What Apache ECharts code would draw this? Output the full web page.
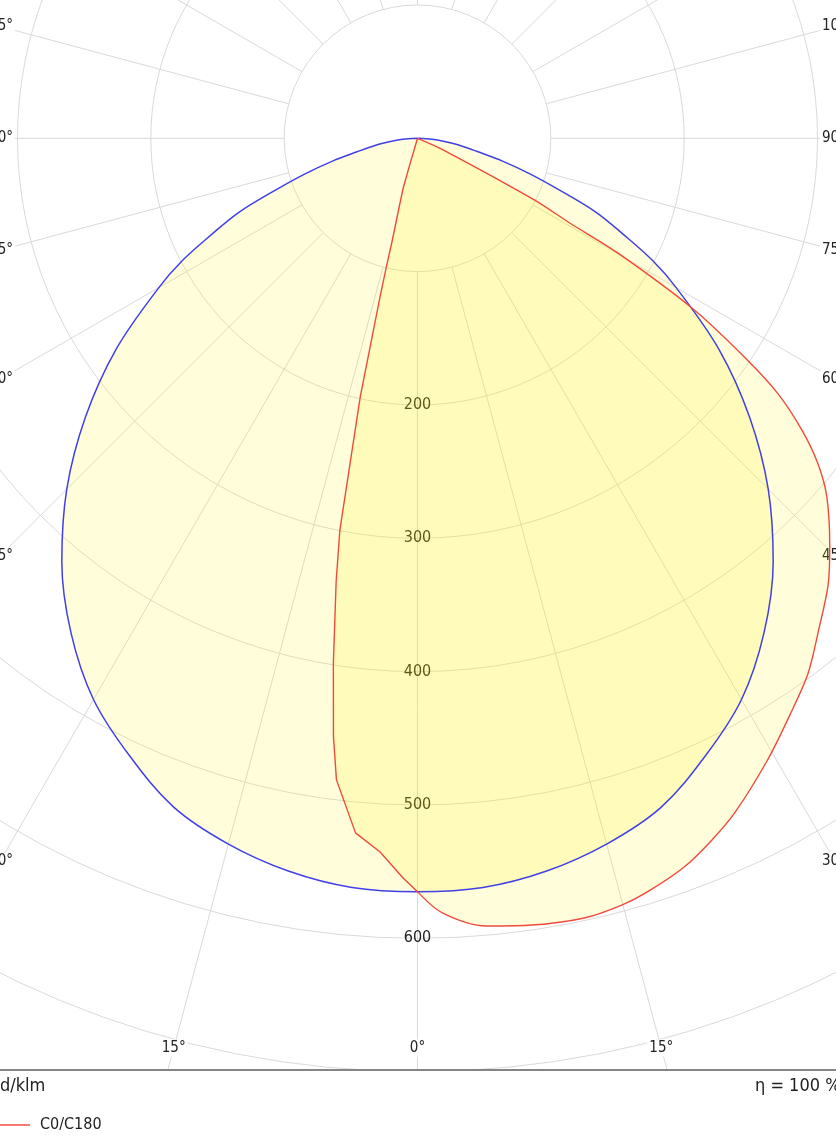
<!DOCTYPE html>
<html>
<head>
<meta charset="utf-8">
<script src="https://cdn.jsdelivr.net/npm/echarts@6/dist/echarts.min.js"></script>
<style>
html, body { margin: 0; padding: 0; background: #fff; }
#main { width: 836px; height: 1140px; }
</style>
</head>
<body>
<div id="main"></div>
<script>
// intensity in cd/klm, gamma in degrees from nadir
var c90Gamma = [0, 5, 10, 15, 20, 25, 30, 35, 40, 45, 50, 55, 60, 62.5, 65, 67.5, 70, 72.5, 75, 77.5, 80, 82.5, 85, 87.5, 90];
var c90Value = [565, 564, 558, 548, 534, 511, 486, 453, 415, 372, 325, 276, 224, 199, 170, 145, 113, 88, 66, 46, 34, 23, 15, 7, 0];

var c0Gamma = [0, 1.8, 5, 8, 12, 15, 17.3, 20.1, 22.7, 25.2, 29.4, 33, 36.1, 39.2, 42.6, 45.3, 48.8, 50.9, 52.8, 54.7, 56.1, 58.2, 60.2, 60.9, 62.2, 65.8, 70];
var c0Value = [565, 581, 593, 596, 598, 595, 590, 582, 571, 559, 535, 514, 497, 476, 455, 435, 408, 387, 362, 331, 298, 244, 173, 131, 99, 21, 0];

var c180Gamma = [0, 1.1, 3, 5.1, 7.2, 8, 9.1, 10.4, 11.2, 12.5, 13.3, 13.6, 13.9, 14.8, 16.1, 16.3, 20];
var c180Value = [565, 555, 536, 523, 485, 453, 399, 338, 300, 198, 122, 100, 78, 56, 38, 20, 0];

var angleTicks = [0, 15, 30, 45, 60, 75, 90, 105];
var radiusTicks = [200, 300, 400, 500, 600];

var cx = 417.5, cy = 138.3;      // pole of the diagram
var unitPx = 4 / 3;              // px per cd/klm
var rMax = 800;
var font = '"DejaVu Sans Condensed", "DejaVu Sans", sans-serif';
var fill = 'rgba(255,242,0,0.145)';
var red = '#f04a3c', blue = '#4040e6';

// right half -> angle 360-g, left half -> angle g (0 = nadir, clockwise)
function rightHalf(g, v) {
    var pts = [];
    for (var i = g.length - 1; i >= 0; i--) pts.push([v[i], 360 - g[i]]);
    return pts;
}
function leftHalf(g, v) {
    var pts = [];
    for (var j = 0; j < g.length; j++) pts.push([v[j], g[j]]);
    return pts;
}

// angle labels along the frame
var graphics = [];
var labelY = 1048;
function angleLabel(txt, x, y, align) {
    return { type: 'text', z: 1, silent: true,
        style: { text: txt, x: x, y: y, align: align, verticalAlign: 'middle', fill: '#222',
                 font: '15px ' + font, backgroundColor: '#fff', padding: [1, 2] } };
}
for (var k = 0; k < angleTicks.length; k++) {
    var a = angleTicks[k] * Math.PI / 180;
    var dxb = (labelY - cy) * Math.tan(a);
    var txt = angleTicks[k] + '°';
    if (angleTicks[k] === 0) {
        graphics.push(angleLabel(txt, cx, labelY, 'center'));
    } else if (angleTicks[k] < 90 && dxb <= cx) {
        graphics.push(angleLabel(txt, cx - dxb, labelY, 'center'));
        graphics.push(angleLabel(txt, cx + dxb, labelY, 'center'));
    } else {
        var y = cy + cx * Math.cos(a) / Math.sin(a);
        graphics.push(angleLabel(txt, 15, y, 'right'));
        graphics.push(angleLabel(txt, 2 * cx - 15, y, 'left'));
    }
}
graphics.push({ type: 'rect', z: 100, silent: true,
    shape: { x: 0, y: 1071, width: 836, height: 70 }, style: { fill: '#fff' } });
graphics.push({ type: 'line', z: 101, silent: true,
    shape: { x1: 0, y1: 1070, x2: 836, y2: 1070 }, style: { stroke: '#858585', lineWidth: 2 } });
graphics.push({ type: 'text', z: 101, silent: true,
    style: { text: 'cd/klm', x: -9, y: 1086, fill: '#222', font: '18px ' + font, verticalAlign: 'middle' } });
graphics.push({ type: 'text', z: 101, silent: true,
    style: { text: 'η = 100 %', x: 755, y: 1086, fill: '#222', font: '18px ' + font, verticalAlign: 'middle' } });

var myChart = echarts.init(document.getElementById('main'));

var option = {
    animation: false,
    polar: [
        { center: [cx, cy], radius: [100 * unitPx, rMax * unitPx] },
        { center: [cx, cy], radius: [0, rMax * unitPx] }
    ],
    angleAxis: [
        {
            polarIndex: 0, type: 'value', min: 0, max: 360, interval: 15,
            startAngle: -90, clockwise: true,
            axisLine: { show: false }, axisTick: { show: false }, axisLabel: { show: false },
            splitLine: { show: true, lineStyle: { color: '#d9d9d9', width: 1 } }
        },
        {
            polarIndex: 1, type: 'value', min: 0, max: 360,
            startAngle: -90, clockwise: true,
            axisLine: { show: false }, axisTick: { show: false }, axisLabel: { show: false },
            splitLine: { show: false }
        }
    ],
    radiusAxis: [
        {
            polarIndex: 0, type: 'value', min: 100, max: rMax, interval: 100,
            axisLine: { show: false }, axisTick: { show: false },
            axisLabel: {
                margin: 0, align: 'center', verticalAlign: 'middle',
                color: '#222', fontSize: 16, fontFamily: font,
                formatter: function (v) { return radiusTicks.indexOf(v) >= 0 ? String(v) : ''; }
            },
            splitLine: { show: true, lineStyle: { color: '#d9d9d9', width: 1 } }
        },
        {
            polarIndex: 1, type: 'value', min: 0, max: rMax,
            axisLine: { show: false }, axisTick: { show: false }, axisLabel: { show: false },
            splitLine: { show: false }
        }
    ],
    legend: {
        data: [{ name: 'C0/C180', icon: 'rect' }], left: 0, top: 1117, padding: 0, z: 102,
        itemWidth: 30, itemHeight: 2,
        itemStyle: { color: '#f27a70' },
        textStyle: { color: '#222', fontSize: 16, fontFamily: font, padding: [0, 0, 0, 5] }
    },
    graphic: graphics,
    series: [
        {
            name: 'C90/C270', type: 'line', coordinateSystem: 'polar', polarIndex: 1,
            symbol: 'none', smooth: 0.35, clip: false,
            lineStyle: { color: blue, width: 1.5 },
            itemStyle: { color: blue },
            areaStyle: { color: fill, opacity: 1 },
            data: rightHalf(c90Gamma, c90Value).concat(leftHalf(c90Gamma, c90Value))
        },
        {
            name: 'C0/C180', type: 'line', coordinateSystem: 'polar', polarIndex: 1,
            symbol: 'none', smooth: 0.3, clip: false,
            lineStyle: { color: red, width: 1.4 },
            itemStyle: { color: red },
            areaStyle: { color: fill, opacity: 1 },
            data: rightHalf(c0Gamma, c0Value)
        },
        {
            name: 'C0/C180', type: 'line', coordinateSystem: 'polar', polarIndex: 1,
            symbol: 'none', smooth: false, clip: false,
            lineStyle: { color: red, width: 1.4 },
            itemStyle: { color: red },
            areaStyle: { color: fill, opacity: 1 },
            data: leftHalf(c180Gamma, c180Value)
        }
    ]
};

myChart.setOption(option);
</script>
</body>
</html>
